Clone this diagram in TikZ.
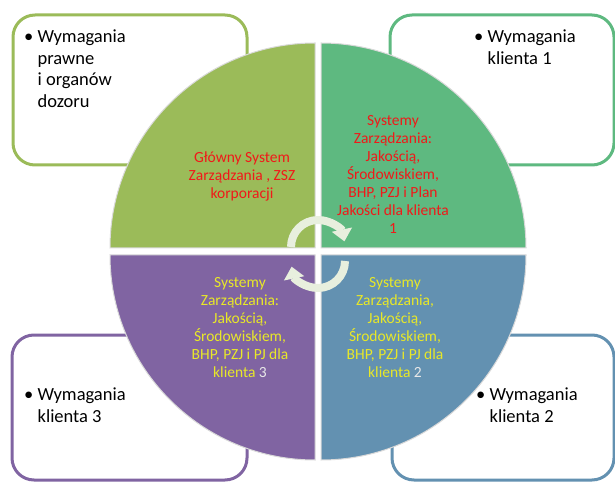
\documentclass[tikz,border=0pt]{standalone}
\usepackage{fontspec}
\setmainfont{Carlito}
\usepackage{xcolor}
\usepackage{tikz}
\usetikzlibrary{arrows.meta}

\definecolor{qOlive}{RGB}{155,187,89}
\definecolor{qGreen}{RGB}{94,185,128}
\definecolor{qPurple}{RGB}{128,100,162}
\definecolor{qBlue}{RGB}{99,145,177}
\definecolor{qRed}{RGB}{240,25,25}
\definecolor{qYellow}{RGB}{232,232,40}
\definecolor{qLight}{RGB}{232,232,232}
\definecolor{qArr}{RGB}{232,239,222}
\newcommand{\bulind}{\hphantom{\textbullet\ }}

\begin{document}
\begin{tikzpicture}[x=1pt,y=1pt,
	Box/.style={draw, line width=3pt, rounded corners=22pt, fill=white},
	Quarter/.style={draw=gray!30, line width=1pt},
	Wym/.style={anchor=north west, inner sep=0pt, align=left, font=\fontsize{18.5}{21.5}\selectfont},
	Sys/.style={inner sep=0pt, align=center, font=\fontsize{15.5}{18}\selectfont},
	Arr/.style={line width=8pt, draw=qArr, -{Triangle[width=20pt,length=12pt]}}]
		\useasboundingbox (0,0) rectangle (615,482);
		
		% requirement boxes, behind the circle
		\draw[Box, draw=qOlive] (13,317) rectangle (247,467);
		\draw[Box, draw=qGreen] (390,317) rectangle (614,467);
		\draw[Box, draw=qPurple] (12,2) rectangle (247,147);
		\draw[Box, draw=qBlue] (392,2) rectangle (614,147);
		
		\node[Wym] (req0) at (24,452) {\textbullet\ Wymagania\\\bulind prawne\\\bulind i organów\\\bulind dozoru};
		\node[Wym] (req1) at (474,452) {\textbullet\ Wymagania\\\bulind klienta 1};
		\node[Wym] (req3) at (24,94) {\textbullet\ Wymagania\\\bulind klienta 3};
		\node[Wym] (req2) at (476,94) {\textbullet\ Wymagania\\\bulind klienta 2};
		
		% four quarters
		\filldraw[Quarter, fill=qOlive] (315,234) -- ++(-205,0) arc[start angle=180, end angle=90, radius=205] -- cycle;
		\filldraw[Quarter, fill=qGreen] (321,234) -- ++(0,205) arc[start angle=90, end angle=0, radius=205] -- cycle;
		\filldraw[Quarter, fill=qPurple] (315,227) -- ++(0,-205) arc[start angle=270, end angle=180, radius=205] -- cycle;
		\filldraw[Quarter, fill=qBlue] (321,227) -- ++(205,0) arc[start angle=0, end angle=-90, radius=205] -- cycle;
		
		\node[Sys, text=qRed] (main) at (242,306) {Główny System\\Zarządzania , ZSZ\\korporacji};
		\node[Sys, text=qRed] (sys1) at (393,308) {Systemy\\Zarządzania:\\Jakością,\\Środowiskiem,\\BHP, PZJ i Plan\\Jakości dla klienta\\1};
		\node[Sys, text=qYellow] (sys3) at (240,154) {Systemy\\Zarządzania:\\Jakością,\\Środowiskiem,\\BHP, PZJ i PJ dla\\klienta {\color{qLight}3}};
		\node[Sys, text=qYellow] (sys2) at (395,154) {Systemy\\Zarządzania,\\Jakością,\\Środowiskiem,\\BHP, PZJ i PJ dla\\klienta {\color{qLight}2}};
		
		% circular arrows in the middle
		\draw[Arr] (291,235) arc[start angle=180, end angle=12, radius=27];
		\draw[Arr] (345,221) arc[start angle=0, end angle=-168, radius=27];
\end{tikzpicture}
\end{document}
